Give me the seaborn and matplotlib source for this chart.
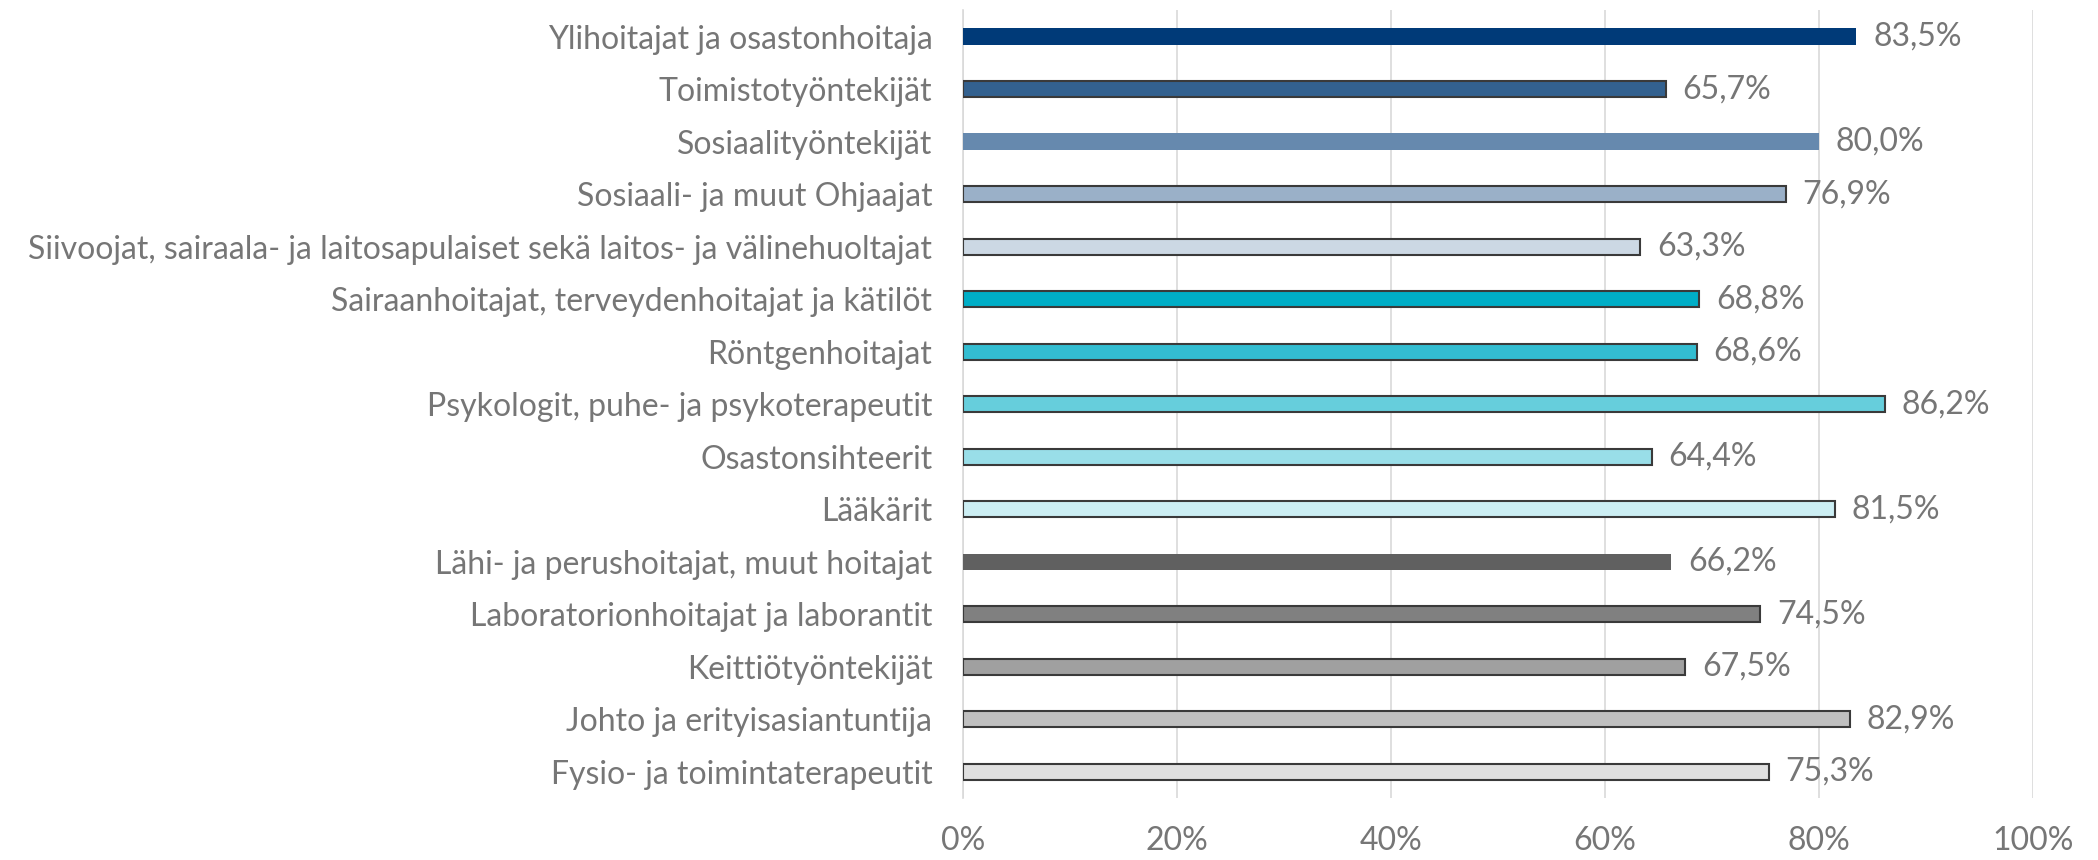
import matplotlib
matplotlib.use("Agg")
import matplotlib.pyplot as plt
import seaborn as sns
import pandas as pd
import numpy as np

# Ammattiryhmät ja osuudet (%)
categories = [
    "Ylihoitajat ja osastonhoitaja",
    "Toimistotyöntekijät",
    "Sosiaalityöntekijät",
    "Sosiaali- ja muut Ohjaajat",
    "Siivoojat, sairaala- ja laitosapulaiset sekä laitos- ja välinehuoltajat",
    "Sairaanhoitajat, terveydenhoitajat ja kätilöt",
    "Röntgenhoitajat",
    "Psykologit, puhe- ja psykoterapeutit",
    "Osastonsihteerit",
    "Lääkärit",
    "Lähi- ja perushoitajat, muut hoitajat",
    "Laboratorionhoitajat ja laborantit",
    "Keittiötyöntekijät",
    "Johto ja erityisasiantuntija",
    "Fysio- ja toimintaterapeutit",
]
values = [83.5, 65.7, 80.0, 76.9, 63.3, 68.8, 68.6, 86.2, 64.4, 81.5,
          66.2, 74.5, 67.5, 82.9, 75.3]
colors = ["#003A78", "#33618F", "#6689AE", "#9AB0C8", "#CCD8E4",
          "#00AEC7", "#33BDD1", "#66CEDC", "#99DEE8", "#CCEEF3",
          "#606060", "#808080", "#A0A0A0", "#C0C0C0", "#E0E0E0"]
outlined = [False, True, False, True, True, True, True, True, True, True,
            False, True, True, True, True]
x_ticks = [0, 20, 40, 60, 80, 100]

df = pd.DataFrame({"ryhma": categories, "osuus": values})

sns.set_style("white")
plt.rcParams["font.family"] = ["Lato", "DejaVu Sans"]
text_col = "#767676"
grid_col = "#D9D9D9"
fs = 23

fig = plt.figure(figsize=(20.98, 8.6), dpi=100)
ax = fig.add_axes([0.459, 0.072, 0.51, 0.916])

sns.barplot(data=df, x="osuus", y="ryhma", hue="ryhma", palette=colors,
            saturation=1, legend=False, width=0.31, orient="h", ax=ax, zorder=3)

for cont, col, edge in zip(ax.containers, colors, outlined):
    for bar in cont:
        bar.set_edgecolor("#3A3A3A" if edge else col)
        bar.set_linewidth(1.5 if edge else 0)
    ax.bar_label(cont, labels=[f"{v.get_width():.1f}%".replace(".", ",") for v in cont],
                 padding=12, fontsize=fs, color=text_col)

ax.set_xlim(0, 100)
ax.set_ylim(14.5, -0.5)
ax.set_xticks(x_ticks)
ax.set_xticklabels([f"{t}%" for t in x_ticks])
ax.set_xlabel("")
ax.set_ylabel("")

ax.grid(axis="x", color=grid_col, linewidth=1.2, zorder=0)
ax.grid(axis="y", visible=False)
for s in ["top", "right", "bottom"]:
    ax.spines[s].set_visible(False)
ax.spines["left"].set_color(grid_col)
ax.spines["left"].set_linewidth(1.2)

ax.tick_params(axis="x", length=0, pad=20, labelsize=fs, labelcolor=text_col)
ax.tick_params(axis="y", which="major", length=0, pad=22, labelsize=fs, labelcolor=text_col)
ax.set_yticks(np.arange(-0.5, len(categories), 1.0), minor=True)
ax.tick_params(axis="y", which="minor", length=8.5, width=1.2, color=grid_col)

fig.savefig("out.png", dpi=100)
